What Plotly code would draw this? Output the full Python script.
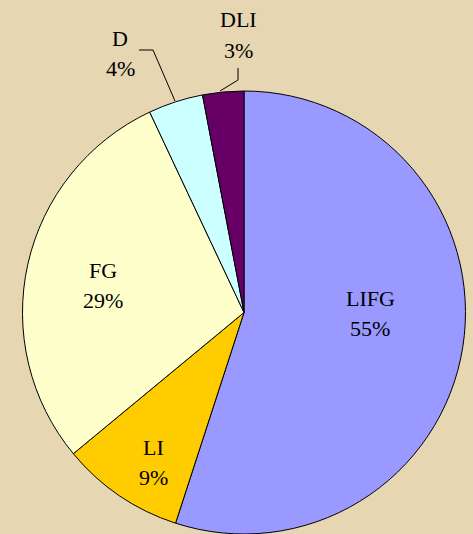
import plotly.graph_objects as go

labels = ['LIFG', 'LI', 'FG', 'D', 'DLI']
values = [55, 9, 29, 4, 3]
colors = ['#9999FF', '#FFCC00', '#FFFFCC', '#CCFFFF', '#660066']

W, H = 473, 534
ml, mt, mb, mr = 22, 91, 0, 7
BG = '#E6D6B2'
FONT = 'Liberation Serif, Times New Roman, serif'

fig = go.Figure(go.Pie(
    labels=labels, values=values, sort=False, direction='clockwise', rotation=0,
    marker=dict(colors=colors, line=dict(color='black', width=1)),
    textinfo='none', hoverinfo='label+percent', showlegend=False,
    domain=dict(x=[0, 1], y=[0, 1]),
))


def px_to_paper(x, y):
    return (x - ml) / (W - ml - mr), 1 - (y - mt) / (H - mt - mb)


# label placement (pixel centre of the name line), percent sits one line below
label_pos = {'LIFG': (370, 298), 'LI': (153, 447), 'FG': (103, 270),
             'D': (120, 38), 'DLI': (238, 20)}
for name, v in zip(labels, values):
    x, y = label_pos[name]
    for i, t in enumerate([name, f'{v}%']):
        ax, ay = px_to_paper(x, y + 30 * i)
        fig.add_annotation(x=ax, y=ay, xref='paper', yref='paper', showarrow=False,
                           xanchor='center', yanchor='middle', text=t,
                           font=dict(family=FONT, size=22, color='black'))

leaders = [[(175, 101), (153, 50), (139, 50)], [(220, 91), (238, 80), (238, 68)]]
for pts in leaders:
    path = 'M ' + ' L '.join(f'{px_to_paper(*p)[0]} {px_to_paper(*p)[1]}' for p in pts)
    fig.add_shape(type='path', path=path, xref='paper', yref='paper',
                  line=dict(color='black', width=1))

fig.update_layout(
    width=W, height=H,
    margin=dict(l=ml, r=mr, t=mt, b=mb, autoexpand=False),
    paper_bgcolor=BG, plot_bgcolor=BG,
)

fig.write_html('out.html', config={'displayModeBar': False},
               post_script=f"document.body.style.margin='0';document.body.style.background='{BG}';")
